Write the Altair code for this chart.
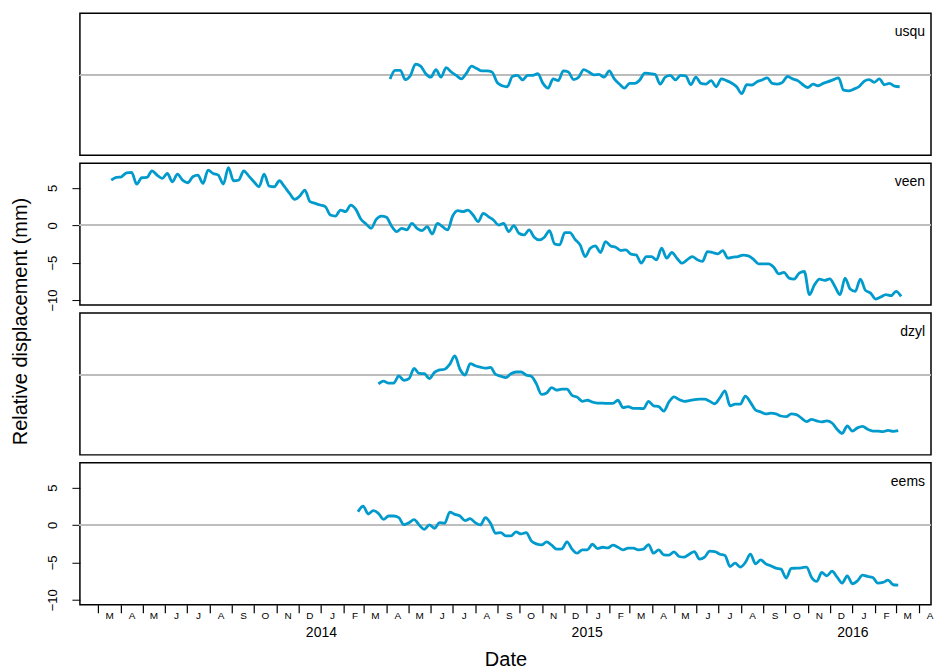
import altair as alt
import pandas as pd

# ---------------- data (weekly readings, mm) ----------------
stations = ["usqu", "veen", "dzyl", "eems"]
start_dates = ["2014-04-06", "2013-03-19", "2014-03-21", "2014-02-21"]

usqu = [-0.46, 0.69, 0.69, -0.55, 0.0, 1.51, 1.24, 0.23, -0.23, 0.78,
        -0.23, 1.06, 0.46, 0.0, -0.46, 0.32, 1.24, 0.92, 0.6, 0.6,
        0.46, -0.92, -1.38, -1.51, -0.14, 0.0, -0.6, 0.0, 0.0, 0.23,
        -1.06, -1.7, -0.46, -0.69, 0.6, 0.46, -0.55, -0.23, 0.78, 0.46,
        0.09, 0.14, -0.23, 0.6, -0.46, -1.15, -1.7, -1.06, -1.06, -0.6,
        0.32, 0.23, 0.14, -1.15, -0.23, 0.0, -0.6, 0.0, -0.05, -1.24,
        -0.23, -1.06, -1.15, -0.69, -1.51, -0.46, -0.69, -1.01, -1.51, -2.43,
        -1.24, -1.28, -0.83, -0.6, -0.32, -1.06, -1.15, -0.92, -0.14, -0.46,
        -0.69, -1.24, -1.61, -1.15, -1.38, -1.06, -0.83, -0.55, -0.32, -1.97,
        -2.06, -1.83, -1.51, -0.78, -0.55, -0.92, -0.46, -1.24, -1.06, -1.42,
        -1.51]

veen = [6.04, 6.4, 6.49, 7.02, 7.07, 5.51, 6.36, 6.4, 7.29, 6.71,
        6.27, 6.93, 5.82, 6.84, 6.04, 5.69, 6.49, 6.71, 5.6, 7.38,
        6.93, 6.71, 5.51, 7.73, 5.96, 6.04, 7.29, 6.58, 5.82, 5.16,
        6.84, 5.24, 5.16, 5.96, 5.16, 4.27, 3.47, 3.91, 4.71, 3.16,
        2.93, 2.71, 2.49, 1.38, 1.24, 2.04, 1.82, 2.71, 2.13, 0.8,
        0.18, -0.4, 0.8, 1.24, 1.07, -0.09, -0.84, -0.4, -0.62, 0.27,
        -0.4, -0.71, -0.18, -1.16, 0.27, -0.18, -0.62, 1.24, 1.96, 1.82,
        2.04, 1.38, 0.49, 1.6, 1.16, 0.71, 0.04, 0.27,
        -0.84, -0.04, -1.07, -1.29, -0.62, -1.6, -1.96, -1.6, -0.71, -2.49,
        -2.62, -0.98, -0.98, -1.87, -2.62, -4.18, -3.07, -2.76, -3.64, -2.18,
        -2.76, -2.93, -3.38, -3.29, -3.87, -3.96, -5.07, -4.18, -4.18, -4.62,
        -3.07, -4.4, -3.64, -4.4, -5.07, -4.62, -4.18, -4.62, -4.84, -3.51,
        -3.64, -3.82, -3.38, -4.4, -4.27, -4.18, -4.0, -4.09, -4.53, -5.16,
        -5.16, -5.16, -5.6, -6.49, -6.31, -7.07, -7.2, -6.4, -6.18, -9.29,
        -7.96, -7.2, -7.38, -7.16, -8.18, -9.29, -7.07, -8.53, -8.84, -7.2,
        -8.71, -9.07, -9.87, -9.6, -9.29, -9.42, -8.84, -9.51]

dzyl = [-1.17, -0.79, -1.07, -1.07, -0.09, -0.7, -0.47, 0.89, 0.23, 0.19,
        -0.47, 0.37, 0.7, 0.79, 1.45, 2.57, 0.79, 0.0, 1.54, 1.26,
        1.07, 0.93, 1.03, 0.09, -0.14, -0.33, 0.19, 0.42, 0.42, 0.0,
        -0.14, -1.17, -2.57, -2.38, -1.68, -2.01, -1.87, -1.87, -2.71, -2.94,
        -3.5, -3.36, -3.6, -3.74, -3.74, -3.79, -3.79, -3.36, -4.35, -4.21,
        -4.44, -4.44, -4.49, -3.5, -4.11, -4.21, -4.81, -3.6, -2.9, -3.27,
        -3.5, -3.41, -3.27, -3.22, -3.22, -3.5, -3.83, -3.04, -2.1, -4.11,
        -3.88, -3.88, -2.8, -3.64, -4.67, -4.91, -5.19, -5.09, -5.19, -5.47,
        -5.56, -5.19, -5.28, -5.75, -6.21, -5.93, -6.12, -6.26, -6.12, -6.4,
        -7.24, -7.8, -6.78, -7.48, -7.06, -6.87, -7.24, -7.48, -7.48, -7.57,
        -7.38, -7.52, -7.43]

eems = [1.78, 2.53, 1.47, 1.91, 1.56, 0.76, 1.2, 1.2, 0.98, 0.04,
        0.31, 0.71, 0.0, -0.58, 0.0, -0.44, 0.31, 0.22, 1.73, 1.42,
        1.2, 0.58, 0.84, 0.31, 0.0, 0.98, 0.22, -1.11, -1.02, -1.47,
        -1.47, -0.93, -1.2, -1.02, -2.13, -2.53, -2.67, -2.27, -2.71, -3.24,
        -3.2, -2.27, -3.24, -3.78, -3.33, -3.33, -2.58, -3.16, -2.98, -3.07,
        -2.71, -2.98, -3.33, -3.11, -3.11, -3.33, -3.24, -2.62, -3.78, -3.33,
        -4.0, -4.04, -3.6, -4.22, -4.31, -3.91, -3.56, -4.58, -4.31, -3.51,
        -3.56, -3.91, -4.09, -5.56, -5.11, -5.64, -5.02, -3.91, -5.2, -4.67,
        -5.2, -5.47, -5.78, -5.91, -7.11, -5.82, -5.78, -5.73, -5.64, -7.02,
        -7.56, -6.36, -6.8, -6.18, -6.98, -7.78, -6.8, -7.87, -7.47, -6.71,
        -6.89, -7.02, -7.78, -7.69, -7.38, -8.0, -8.04]

y_ticks = [-10, -5, 0, 5]
year_ticks = [2014, 2015, 2016]

# ---------------- build table ----------------
series = dict(zip(stations, [usqu, veen, dzyl, eems]))
rows = []
for name, start in zip(stations, start_dates):
    vals = series[name]
    dates = pd.date_range(start, periods=len(vals), freq="7D")
    for d, v in zip(dates, vals):
        rows.append({"station": name, "date": d.strftime("%Y-%m-%dT00:00:00"), "value": v})
df = pd.DataFrame(rows)

month_ticks = []
y, m = 2013, 3
while (y, m) <= (2016, 4):
    month_ticks.append(alt.DateTime(year=y, month=m, date=1))
    m += 1
    if m > 12:
        m, y = 1, y + 1
year_values = [alt.DateTime(year=yr, month=1, date=1) for yr in year_ticks]

W, H = 852, 142
FONT = "Liberation Sans"
LINE_COLOR = "#009ACD"

x_scale = alt.Scale(domain=[alt.DateTime(year=2013, month=2, date=4),
                            alt.DateTime(year=2016, month=4, date=18)], nice=False)
y_scale = alt.Scale(domain=[-10.67, 8.31], nice=False, zero=False)


def y_axis(show, with_title=False):
    kw = dict(values=y_ticks, tickSize=8, tickWidth=1,
              tickColor="black" if show else "transparent",
              labelColor="black" if show else "transparent",
              labelAngle=270, labelAlign="center", labelBaseline="alphabetic",
              labelPadding=15, labelFontSize=13, labelFont=FONT,
              domain=False, grid=False)
    if with_title:
        kw.update(title="Relative displacement (mm)", titleFontSize=20, titleFont=FONT,
                  titleFontWeight="normal", titleAngle=270, titleAlign="center",
                  titleBaseline="middle", titleX=-59, titleY=8, titleColor="black")
    else:
        kw.update(title=None)
    return alt.Axis(**kw)


month_axis = alt.Axis(values=month_ticks, tickSize=8, tickWidth=1.2, tickColor="black",
                      domain=False, grid=False, labelOffset=11, labelPadding=-2,
                      labelExpr="substring(timeFormat(datum.value, '%b'), 0, 1)",
                      labelFontSize=10, labelFont=FONT, labelColor="black",
                      labelOverlap=False, labelFlush=False, labelBound=False,
                      title=None, orient="bottom")
year_axis = alt.Axis(values=year_values, ticks=False, tickSize=0, domain=False, grid=False,
                     labelPadding=21, labelExpr="timeFormat(datum.value, '%Y')",
                     labelFontSize=14, labelFont=FONT, labelColor="black",
                     labelOverlap=False, labelFlush=False, labelBound=False,
                     title="Date", titleFontSize=20, titleFont=FONT,
                     titleFontWeight="normal", titlePadding=10, titleColor="black",
                     orient="bottom")


def panel(name, show_y, with_title=False, bottom=False):
    base = alt.Chart(df).transform_filter(alt.datum.station == name)
    zero = base.mark_rule(color="#BEBEBE", strokeWidth=1).encode(
        y=alt.datum(0, scale=y_scale, axis=y_axis(show_y, with_title)))
    line = base.mark_line(color=LINE_COLOR, strokeWidth=2.8, interpolate="monotone").encode(
        x=alt.X("date:T", scale=x_scale, axis=month_axis if bottom else None),
        y=alt.Y("value:Q", scale=y_scale, axis=y_axis(show_y, with_title)))
    label = alt.Chart(pd.DataFrame({"station": [name]})).mark_text(
        align="right", baseline="alphabetic", fontSize=14, font=FONT, color="black"
    ).encode(text="station:N", x=alt.value(W - 6), y=alt.value(23))
    layers = [zero, line]
    if bottom:
        ghost = base.mark_line(opacity=0).encode(
            x=alt.X("date:T", scale=x_scale, axis=year_axis),
            y=alt.Y("value:Q", scale=y_scale, axis=y_axis(show_y, with_title)))
        layers.append(ghost)
    layers.append(label)
    ch = alt.layer(*layers).properties(width=W, height=H)
    if bottom:
        ch = ch.resolve_axis(x="independent")
    return ch


chart = alt.vconcat(
    panel("usqu", False),
    panel("veen", True),
    panel("dzyl", False, with_title=True),
    panel("eems", True, bottom=True),
    spacing=8,
    bounds="flush",
).properties(
    padding={"left": 2, "top": 4, "right": 0, "bottom": 0},
    background="white",
).configure_view(
    stroke="black", strokeWidth=1.5
).configure_axis(
    labelFont=FONT, titleFont=FONT
)

chart.save("out.html", embed_options={"renderer": "svg", "actions": False})
